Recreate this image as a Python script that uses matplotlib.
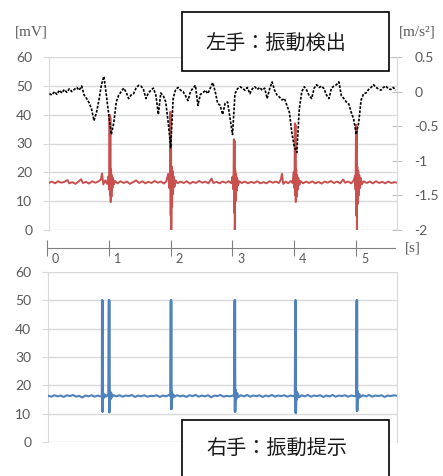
import numpy as np
import matplotlib
matplotlib.use('Agg')
import matplotlib.pyplot as plt
from matplotlib.patches import Rectangle
from matplotlib.transforms import ScaledTranslation

# ---------------- data ----------------
# left hand: acceleration [m/s^2], sampled every 0.04 s starting at 0.04 s
accel_step = 0.04
accel_v = [
    -0.03, -0.05, 0.00, -0.04, 0.02, -0.02, 0.03, -0.01, 0.04, 0.00,
    0.03, 0.06, 0.02, 0.08, -0.05, -0.10, -0.16, -0.25, -0.42, -0.30,
    -0.12, 0.10, 0.22, -0.05, -0.35, -0.62, -0.45, -0.15, -0.05, 0.00,
    0.05, -0.01, -0.10, -0.05, -0.03, 0.05, 0.09, 0.08, 0.03, -0.10,
    -0.02, 0.02, 0.05, -0.05, -0.33, -0.02, -0.06, -0.15, -0.45, -0.81,
    -0.10, 0.03, 0.06, 0.02, 0.00, -0.06, -0.13, 0.00, 0.05, 0.09,
    -0.20, -0.04, -0.02, 0.02, -0.03, 0.05, 0.13, 0.00, -0.17, -0.20,
    -0.33, -0.17, -0.15, -0.38, -0.62, -0.03, 0.04, 0.07, 0.05, 0.02,
    0.06, -0.03, 0.04, 0.07, 0.03, 0.06, 0.02, 0.05, -0.10, 0.04,
    0.14, 0.02, -0.05, -0.08, -0.12, -0.10, -0.20, -0.30, -0.60, -0.80,
    -0.88, -0.25, 0.00, 0.07, 0.02, -0.06, -0.10, 0.05, 0.10, 0.06,
    0.08, 0.04, -0.05, -0.10, 0.05, 0.08, 0.10, 0.14, -0.06, -0.10,
    -0.15, -0.18, -0.30, -0.40, -0.62, -0.45, -0.12, -0.03, -0.02, 0.03,
    0.06, 0.10, 0.06, 0.04, 0.02, 0.06, 0.08, 0.04, 0.03, 0.06,
    0.02,
]

# left hand: detected vibration signal [mV]
red_t = [0.03, 0.08, 0.13, 0.18, 0.23, 0.28, 0.33, 0.36, 0.41, 0.46, 0.51, 0.55, 0.58, 0.63, 0.68,
         0.73, 0.78, 0.83, 0.87, 0.89, 0.91, 0.94, 0.97, 0.99, 1.005,
         1.012, 1.018, 1.024, 1.030, 1.036, 1.042, 1.050, 1.058, 1.068, 1.08, 1.10, 1.14, 1.19, 1.24,
         1.29, 1.34, 1.39, 1.44, 1.49, 1.54, 1.59, 1.64, 1.69, 1.74, 1.79, 1.84, 1.89, 1.93, 1.96,
         1.98, 1.99,
         1.995, 2.000, 2.005, 2.010, 2.016, 2.022, 2.030, 2.038, 2.048, 2.06, 2.08, 2.11, 2.16, 2.21,
         2.26, 2.31, 2.36, 2.41, 2.46, 2.51, 2.56, 2.61, 2.66, 2.69, 2.74, 2.79, 2.84, 2.89, 2.94,
         2.98, 3.00, 3.015,
         3.022, 3.027, 3.032, 3.037, 3.043, 3.050, 3.058, 3.066, 3.076, 3.09, 3.11, 3.15, 3.20, 3.25,
         3.30, 3.35, 3.40, 3.45, 3.50, 3.55, 3.60, 3.65, 3.70, 3.75, 3.78, 3.80, 3.82, 3.86, 3.90,
         3.94, 3.97, 3.99, 4.002,
         4.008, 4.013, 4.018, 4.023, 4.030, 4.037, 4.045, 4.054, 4.064, 4.08, 4.10, 4.14, 4.19, 4.24,
         4.29, 4.34, 4.39, 4.44, 4.49, 4.54, 4.59, 4.64, 4.69, 4.74, 4.79, 4.82, 4.87, 4.92, 4.96,
         4.98, 4.99,
         4.997, 5.002, 5.007, 5.012, 5.018, 5.025, 5.033, 5.041, 5.050, 5.06, 5.075, 5.09, 5.12, 5.17,
         5.22, 5.27, 5.32, 5.37, 5.42, 5.47, 5.52, 5.57, 5.62, 5.66]
red_v = [16.3, 16.8, 16.2, 16.9, 16.4, 16.7, 17.3, 16.2, 16.6, 16.0, 16.8, 17.6, 16.3, 16.7, 16.1,
         16.9, 16.4, 16.8, 17.5, 19.6, 15.8, 17.2, 16.0, 18.5, 14.0,
         40.0, 12.0, 39.0, 9.7, 21.0, 11.5, 19.0, 14.5, 18.0, 15.8, 17.0, 16.2, 16.9, 16.3,
         16.8, 16.0, 16.6, 17.2, 16.3, 16.9, 16.2, 16.7, 16.3, 17.0, 16.4, 16.8, 16.1, 16.9, 19.5,
         14.5, 19.0,
         41.0, 5.0, 40.0, 0.0, 22.0, 8.0, 20.5, 12.5, 18.5, 15.0, 17.2, 16.2, 16.8, 16.3,
         16.9, 16.1, 16.7, 16.3, 17.0, 16.4, 16.8, 16.2, 17.8, 16.3, 16.7, 16.2, 16.8, 16.4, 16.9,
         16.2, 18.5, 14.0,
         31.5, 6.0, 31.0, 0.0, 21.0, 10.0, 19.5, 13.5, 18.0, 15.5, 16.9, 16.3, 16.8, 16.2,
         16.7, 16.3, 16.9, 16.2, 16.6, 16.2, 16.9, 16.4, 16.8, 16.3, 17.4, 19.5, 16.0, 16.8, 16.2,
         17.0, 16.3, 20.0, 14.5,
         37.0, 12.0, 36.5, 9.7, 21.0, 11.5, 19.0, 14.0, 18.0, 15.6, 17.0, 16.2, 16.8, 16.3,
         16.9, 16.2, 16.7, 16.1, 16.8, 16.4, 17.0, 16.3, 16.8, 16.2, 17.5, 16.4, 16.8, 16.2, 17.2,
         18.8, 14.0,
         36.5, 5.0, 36.0, 0.0, 22.0, 9.0, 20.5, 12.0, 19.0, 14.5, 18.0, 15.8, 16.9, 16.3,
         16.8, 16.2, 16.9, 16.3, 16.7, 16.2, 16.8, 16.3, 16.6, 16.4]

# right hand: presented vibration signal [mV]
blue_t = [0.02, 0.07, 0.12, 0.17, 0.22, 0.27, 0.32, 0.37, 0.42, 0.47, 0.52, 0.57, 0.62, 0.67, 0.72,
          0.77, 0.82, 0.86, 0.885,
          0.888, 0.892, 0.896, 0.900, 0.905, 0.915, 0.93, 0.95, 0.97, 0.99,
          0.998, 1.002, 1.006, 1.010, 1.016, 1.024, 1.035, 1.05, 1.07, 1.12, 1.17, 1.22, 1.27, 1.32,
          1.37, 1.42, 1.47, 1.52, 1.57, 1.62, 1.67, 1.72, 1.77, 1.82, 1.87, 1.92, 1.97, 1.99,
          1.998, 2.002, 2.006, 2.010, 2.016, 2.025, 2.04, 2.06, 2.10, 2.15, 2.20, 2.25, 2.30, 2.35,
          2.40, 2.45, 2.50, 2.55, 2.60, 2.65, 2.70, 2.75, 2.80, 2.85, 2.90, 2.95, 3.00, 3.02,
          3.028, 3.032, 3.036, 3.040, 3.046, 3.055, 3.07, 3.09, 3.13, 3.18, 3.23, 3.28, 3.33, 3.38,
          3.43, 3.48, 3.53, 3.58, 3.63, 3.68, 3.73, 3.78, 3.83, 3.88, 3.93, 3.97, 4.00,
          4.008, 4.012, 4.016, 4.020, 4.026, 4.035, 4.05, 4.07, 4.11, 4.16, 4.21, 4.26, 4.31, 4.36,
          4.41, 4.46, 4.51, 4.56, 4.61, 4.66, 4.71, 4.76, 4.81, 4.86, 4.91, 4.96, 4.99,
          4.998, 5.002, 5.006, 5.010, 5.016, 5.025, 5.04, 5.06, 5.10, 5.15, 5.20, 5.25, 5.30, 5.35,
          5.40, 5.45, 5.50, 5.55, 5.60, 5.65]
blue_v = [16.3, 16.0, 16.5, 16.1, 16.4, 15.9, 16.5, 16.2, 16.6, 16.0, 16.3, 15.7, 16.4, 16.1, 16.5,
          16.0, 16.4, 16.1, 16.3,
          50.0, 10.7, 50.0, 10.7, 17.5, 15.5, 16.8, 16.0, 16.5, 16.2,
          50.0, 10.5, 50.0, 10.5, 18.0, 15.0, 17.5, 15.8, 16.6, 16.1, 16.5, 16.0, 16.4, 16.2,
          16.6, 15.9, 16.4, 16.1, 16.5, 16.0, 16.3, 16.2, 16.5, 15.9, 16.4, 16.1, 16.6, 16.2,
          50.0, 11.6, 50.0, 11.6, 17.5, 15.5, 16.8, 16.0, 16.5, 16.1, 16.4, 15.9, 16.5, 16.2,
          16.6, 16.0, 16.4, 16.1, 16.5, 15.8, 16.4, 16.2, 16.6, 16.0, 16.3, 16.1, 16.4, 16.3,
          50.0, 10.7, 50.0, 10.7, 18.5, 15.0, 17.3, 15.9, 16.5, 16.1, 16.6, 16.0, 16.4, 16.2,
          16.5, 15.9, 16.4, 16.1, 16.6, 16.0, 16.4, 16.2, 16.5, 16.0, 16.4, 16.2, 16.3,
          50.0, 10.3, 50.0, 10.3, 18.0, 15.0, 17.2, 15.8, 16.5, 16.1, 16.6, 16.0, 16.4, 16.2,
          16.5, 15.9, 16.4, 16.1, 16.6, 16.0, 16.4, 16.2, 16.5, 16.0, 16.4, 16.2, 16.3,
          50.0, 11.0, 50.0, 11.0, 17.8, 15.2, 17.0, 15.9, 16.5, 16.1, 16.6, 16.0, 16.4, 16.2,
          16.5, 15.9, 16.4, 16.2, 16.5, 16.3]

mv_ticks = [0, 10, 20, 30, 40, 50, 60]
acc_ticks = [0.5, 0, -0.5, -1, -1.5, -2]
acc_tick_labels = ['0.5', '0', '-0.5', '-1', '-1.5', '-2']
sec_ticks = [0, 1, 2, 3, 4, 5]

title_top = '左手：振動検出'
title_bottom = '右手：振動提示'

# ---------------- style ----------------
RED = '#C8504F'
BLUE = '#4F81BD'
GRID = '#D9D9D9'
LBL = '#595959'
NUMFONT = ['Lato', 'DejaVu Sans']
plt.rcParams['font.family'] = NUMFONT

W, H = 443, 476
fig = plt.figure(figsize=(W / 100, H / 100), dpi=100)


def rect(x0, y0, x1, y1):
    return [x0 / W, 1 - y1 / H, (x1 - x0) / W, (y1 - y0) / H]


accel_t = np.arange(1, len(accel_v) + 1) * accel_step

# ---- top panel ----
ax1 = fig.add_axes(rect(49, 57, 397, 230))
ax1.plot(red_t, red_v, color=RED, lw=1.4, zorder=3)
ax1.set_xlim(0.032, 5.66)
ax1.set_ylim(0, 60)
ax1.set_yticks(mv_ticks)
ax1.set_xticks([])
ax1.grid(axis='y', color=GRID, lw=1.0)
ax1.set_axisbelow(True)
for s in ['top', 'bottom', 'right']:
    ax1.spines[s].set_visible(False)
ax1.spines['left'].set_color(GRID)
ax1.tick_params(axis='y', direction='out', length=4, color=GRID, labelcolor=LBL,
                labelsize=10, pad=8)

ax2 = ax1.twinx()
ax2.plot(accel_t, accel_v, color='black', lw=1.2, ls=(0, (1.6, 0.9)), zorder=4)
ax2.set_ylim(-2, 0.5)
ax2.set_yticks(acc_ticks)
ax2.set_yticklabels(acc_tick_labels)
for s in ['top', 'bottom', 'left']:
    ax2.spines[s].set_visible(False)
ax2.spines['right'].set_color(GRID)
ax2.tick_params(axis='y', direction='inout', length=7, color='#BFBFBF', labelcolor=LBL,
                labelsize=10, pad=9)

# ---- time axis ----
axt = fig.add_axes(rect(47, 238, 395, 258))
axt.set_xlim(0, 5.63)
axt.set_ylim(0, 1)
axt.patch.set_alpha(0)
for s in ['top', 'left', 'right']:
    axt.spines[s].set_visible(False)
axt.spines['bottom'].set_position(('axes', 0.5))
axt.spines['bottom'].set_color('#808080')
axt.set_yticks([])
axt.set_xticks(sec_ticks)
axt.tick_params(axis='x', direction='inout', length=11, color='#808080', labelcolor=LBL,
                labelsize=9, pad=-2)
off = ScaledTranslation(5 / 100, 0, fig.dpi_scale_trans)
for lbl in axt.get_xticklabels():
    lbl.set_ha('left')
    lbl.set_transform(lbl.get_transform() + off)

# ---- bottom panel ----
ax3 = fig.add_axes(rect(48, 272, 397, 442))
ax3.plot(blue_t, blue_v, color=BLUE, lw=1.5, zorder=3)
ax3.set_xlim(0.016, 5.65)
ax3.set_ylim(0, 60)
ax3.set_yticks(mv_ticks)
ax3.set_xticks([])
ax3.grid(axis='y', color=GRID, lw=1.0)
ax3.set_axisbelow(True)
for s in ['top', 'bottom']:
    ax3.spines[s].set_visible(False)
ax3.spines['left'].set_color(GRID)
ax3.spines['right'].set_color(GRID)
ax3.tick_params(axis='y', direction='out', length=4, color=GRID, labelcolor=LBL,
                labelsize=10, pad=8)

# ---- unit labels ----
SERIF = ['Liberation Serif', 'DejaVu Serif']
fig.text(31 / W, 1 - 32 / H, '[mV]', family=SERIF, fontsize=11, color=LBL,
         ha='center', va='center')
fig.text(417 / W, 1 - 32 / H, '[m/s²]', family=SERIF, fontsize=11, color=LBL,
         ha='center', va='center')
fig.text(413 / W, 1 - 248 / H, '[s]', family=SERIF, fontsize=11, color=LBL,
         ha='center', va='center')

# ---- text boxes ----
CJK = ['Noto Sans CJK JP', 'DejaVu Sans']
fig.add_artist(Rectangle((182 / W, 1 - 71 / H), 207 / W, 59 / H, transform=fig.transFigure,
                         facecolor='white', edgecolor='black', lw=1.2, zorder=10))
fig.text(276 / W, 1 - 44 / H, title_top, family=CJK, fontsize=14.5, color='#1a1a1a',
         ha='center', va='center', zorder=11)
fig.add_artist(Rectangle((182 / W, 1 - 490 / H), 207 / W, 70 / H, transform=fig.transFigure,
                         facecolor='white', edgecolor='black', lw=1.2, zorder=10))
fig.text(277 / W, 1 - 449 / H, title_bottom, family=CJK, fontsize=14.5, color='#1a1a1a',
         ha='center', va='center', zorder=11)

fig.savefig('out.png', dpi=100)
